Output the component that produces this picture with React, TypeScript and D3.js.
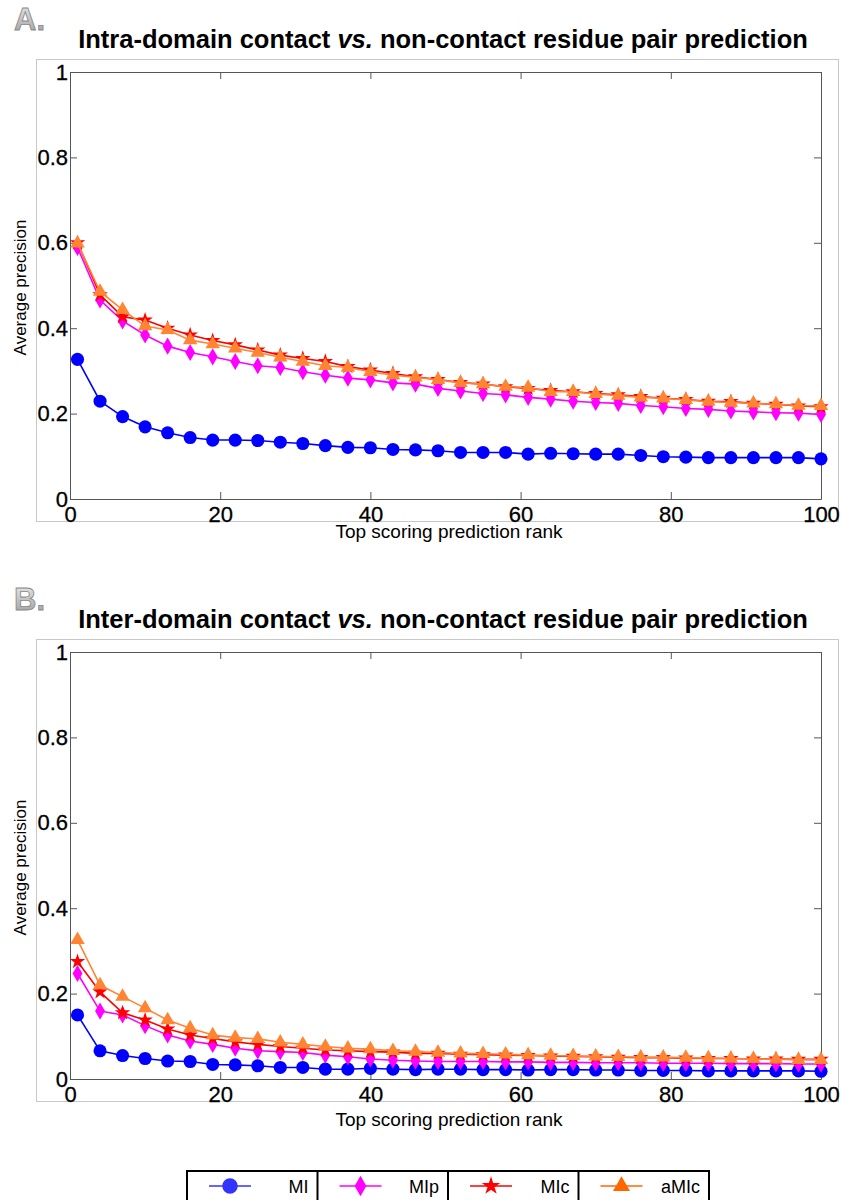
import React, { useEffect, useRef } from "react";
import * as d3 from "d3";

// prediction ranks (markers every 3 ranks)
const ranks = [1, 4, 7, 10, 13, 16, 19, 22, 25, 28, 31, 34, 37, 40, 43, 46, 49,
	52, 55, 58, 61, 64, 67, 70, 73, 76, 79, 82, 85, 88, 91, 94, 97, 100];

const seriesNames = ["MI", "MIp", "MIc", "aMIc"];
const xTicks = [0, 20, 40, 60, 80, 100];
const yTicks = [0, 0.2, 0.4, 0.6, 0.8, 1];

// A. intra-domain
const intraMI = [0.327, 0.229, 0.193, 0.169, 0.155, 0.144, 0.138, 0.138, 0.137, 0.133, 0.130, 0.125, 0.121, 0.120, 0.116, 0.115, 0.113,
	0.109, 0.109, 0.109, 0.105, 0.107, 0.106, 0.105, 0.105, 0.102, 0.099, 0.098, 0.097, 0.097, 0.097, 0.097, 0.097, 0.094];
const intraMIp = [0.589, 0.466, 0.417, 0.384, 0.358, 0.343, 0.333, 0.322, 0.312, 0.308, 0.298, 0.290, 0.283, 0.279, 0.272, 0.269, 0.259,
	0.253, 0.247, 0.244, 0.238, 0.234, 0.229, 0.226, 0.224, 0.219, 0.216, 0.212, 0.210, 0.206, 0.204, 0.202, 0.201, 0.198];
const intraMIc = [0.600, 0.478, 0.427, 0.419, 0.400, 0.384, 0.371, 0.361, 0.349, 0.337, 0.329, 0.322, 0.310, 0.302, 0.294, 0.286, 0.280,
	0.273, 0.269, 0.263, 0.259, 0.254, 0.251, 0.247, 0.244, 0.240, 0.236, 0.233, 0.229, 0.228, 0.224, 0.222, 0.218, 0.216];
const intraAMIc = [0.599, 0.486, 0.443, 0.405, 0.396, 0.372, 0.363, 0.353, 0.343, 0.332, 0.322, 0.312, 0.308, 0.298, 0.290, 0.285, 0.279,
	0.272, 0.269, 0.263, 0.261, 0.251, 0.251, 0.246, 0.242, 0.238, 0.236, 0.232, 0.228, 0.226, 0.224, 0.222, 0.219, 0.218];

// B. inter-domain
const interMI = [0.150, 0.066, 0.055, 0.048, 0.042, 0.041, 0.034, 0.033, 0.031, 0.027, 0.027, 0.023, 0.023, 0.025, 0.023, 0.022, 0.023,
	0.023, 0.022, 0.022, 0.021, 0.022, 0.022, 0.021, 0.021, 0.020, 0.020, 0.020, 0.019, 0.019, 0.019, 0.019, 0.019, 0.018];
const interMIp = [0.247, 0.159, 0.150, 0.125, 0.103, 0.089, 0.081, 0.072, 0.066, 0.064, 0.062, 0.056, 0.052, 0.047, 0.044, 0.042, 0.041,
	0.041, 0.041, 0.040, 0.040, 0.039, 0.039, 0.038, 0.038, 0.038, 0.037, 0.037, 0.037, 0.036, 0.036, 0.036, 0.035, 0.035];
const interMIc = [0.275, 0.204, 0.155, 0.138, 0.117, 0.103, 0.095, 0.087, 0.081, 0.076, 0.072, 0.068, 0.066, 0.064, 0.063, 0.060, 0.060,
	0.058, 0.057, 0.056, 0.055, 0.054, 0.053, 0.052, 0.051, 0.050, 0.050, 0.049, 0.048, 0.048, 0.047, 0.047, 0.046, 0.046];
const interAMIc = [0.326, 0.220, 0.193, 0.166, 0.138, 0.119, 0.103, 0.097, 0.094, 0.086, 0.081, 0.076, 0.072, 0.070, 0.066, 0.064, 0.062,
	0.060, 0.059, 0.058, 0.056, 0.055, 0.054, 0.053, 0.052, 0.051, 0.051, 0.050, 0.049, 0.048, 0.047, 0.046, 0.045, 0.045];

const lineColors = ["#0000ff", "#ff00ff", "#ff0000", "#ff8533"];
const legendColors = ["#3333ff", "#ff00ff", "#ff0000", "#ff6600"];
const symbols = [d3.symbolCircle, d3.symbolDiamond, d3.symbolStar, d3.symbolTriangle];
const symbolSizes = [135, 85, 75, 90];

const FONT = "'Liberation Sans', Arial, Helvetica, sans-serif";
const PLOT_L = 70;
const PLOT_R = 821;
const PLOT_H = 427;

const panels = [
	{ tag: "A.", tagY: 30, top: 72, titleY: 48, xlabY: 538, title: "Intra-domain contact ", data: [intraMI, intraMIp, intraMIc, intraAMIc] },
	{ tag: "B.", tagY: 610, top: 652, titleY: 628, xlabY: 1126, title: "Inter-domain contact ", data: [interMI, interMIp, interMIc, interAMIc] }
];

function App() {
	const ref = useRef<SVGSVGElement>(null);

	useEffect(() => {
		const svg = d3.select(ref.current);
		svg.selectAll("*").remove();

		//gradient for the embossed panel letters
		const grad = svg.append("defs").append("linearGradient")
			.attr("id", "tagGrad").attr("x1", 0).attr("y1", 0).attr("x2", 0).attr("y2", 1);
		grad.append("stop").attr("offset", "0%").attr("stop-color", "#ececec");
		grad.append("stop").attr("offset", "100%").attr("stop-color", "#9a9a9a");

		const x = d3.scaleLinear().domain([0, 100]).range([PLOT_L, PLOT_R]);

		panels.forEach(p => {
			const y = d3.scaleLinear().domain([0, 1]).range([p.top + PLOT_H, p.top]);
			const g = svg.append("g");

			//light figure frame
			g.append("rect")
				.attr("x", 36.5).attr("y", p.top - 13 + 0.5)
				.attr("width", 802).attr("height", 449 + 13)
				.attr("fill", "white").attr("stroke", "#c8c8c8");

			//panel letter
			g.append("text")
				.attr("x", 14).attr("y", p.tagY)
				.attr("font-family", FONT).attr("font-weight", "bold").attr("font-size", 31)
				.attr("fill", "url(#tagGrad)").attr("stroke", "#888").attr("stroke-width", 0.8)
				.text(p.tag);

			//title
			const t = g.append("text")
				.attr("x", 443).attr("y", p.titleY).attr("text-anchor", "middle")
				.attr("font-family", FONT).attr("font-weight", "bold").attr("font-size", 25.5);
			t.append("tspan").text(p.title);
			t.append("tspan").attr("font-style", "italic").text("vs.");
			t.append("tspan").text(" non-contact residue pair prediction");

			//axes
			const bottom = g.append("g")
				.attr("transform", `translate(0,${p.top + PLOT_H})`)
				.call(d3.axisBottom(x).tickValues(xTicks).tickSizeInner(-7).tickSizeOuter(0).tickPadding(7).tickFormat(d3.format("d")));
			const top = g.append("g")
				.attr("transform", `translate(0,${p.top})`)
				.call(d3.axisTop(x).tickValues(xTicks).tickSizeInner(-7).tickSizeOuter(0).tickFormat(() => ""));
			const left = g.append("g")
				.attr("transform", `translate(${PLOT_L},0)`)
				.call(d3.axisLeft(y).tickValues(yTicks).tickSizeInner(-7).tickSizeOuter(0).tickPadding(2).tickFormat(d => String(d)));
			const right = g.append("g")
				.attr("transform", `translate(${PLOT_R},0)`)
				.call(d3.axisRight(y).tickValues(yTicks).tickSizeInner(-7).tickSizeOuter(0).tickFormat(() => ""));
			[bottom, top, left, right].forEach(a => {
				a.selectAll("path, line").attr("stroke", "#555");
				a.selectAll("text").attr("font-family", FONT).attr("font-size", 22).attr("fill", "black")
					.attr("stroke", "black").attr("stroke-width", 0.3);
			});

			//axis labels
			g.append("text")
				.attr("transform", `translate(26,${p.top + PLOT_H / 2 + 2}) rotate(-90)`)
				.attr("text-anchor", "middle").attr("font-family", FONT).attr("font-size", 17)
				.text("Average precision");
			g.append("text")
				.attr("x", 449).attr("y", p.xlabY).attr("text-anchor", "middle")
				.attr("font-family", FONT).attr("font-size", 19)
				.text("Top scoring prediction rank");

			//series
			const lineGen = d3.line<number>().x((d, i) => x(ranks[i])).y(d => y(d));
			p.data.forEach((vals, si) => {
				g.append("path")
					.attr("d", lineGen(vals))
					.attr("fill", "none").attr("stroke", lineColors[si]).attr("stroke-width", 1.6);
				g.append("g").selectAll("path")
					.data(vals)
					.join("path")
					.attr("transform", (d, i) => `translate(${x(ranks[i])},${y(d)})`)
					.attr("d", d3.symbol().type(symbols[si]).size(symbolSizes[si])())
					.attr("fill", lineColors[si]);
			});
		});

		//legend
		const lx = d3.scaleBand().domain(seriesNames).range([187, 709]);
		const leg = svg.append("g");
		leg.append("rect")
			.attr("x", 187).attr("y", 1171).attr("width", 522).attr("height", 40)
			.attr("fill", "white").attr("stroke", "black").attr("stroke-width", 2);
		seriesNames.forEach((name, si) => {
			const x0 = lx(name) as number;
			if (si > 0) {
				leg.append("line").attr("x1", x0).attr("x2", x0).attr("y1", 1171).attr("y2", 1200)
					.attr("stroke", "black").attr("stroke-width", 2);
			}
			leg.append("line")
				.attr("x1", x0 + 22).attr("x2", x0 + 64).attr("y1", 1186).attr("y2", 1186)
				.attr("stroke", legendColors[si]).attr("stroke-width", 1.3);
			leg.append("path")
				.attr("transform", `translate(${x0 + 43},1186)`)
				.attr("d", d3.symbol().type(symbols[si]).size(symbolSizes[si] * 1.4)())
				.attr("fill", legendColors[si]);
			leg.append("text")
				.attr("x", x0 + lx.bandwidth() - 9).attr("y", 1193).attr("text-anchor", "end")
				.attr("font-family", FONT).attr("font-size", 18)
				.text(name);
		});
	}, []);

	return (
		<div style={{ position: "absolute", left: 0, top: 0 }}>
			<svg ref={ref} width={842} height={1200} style={{ display: "block" }} />
		</div>
	);
}

export default App;
